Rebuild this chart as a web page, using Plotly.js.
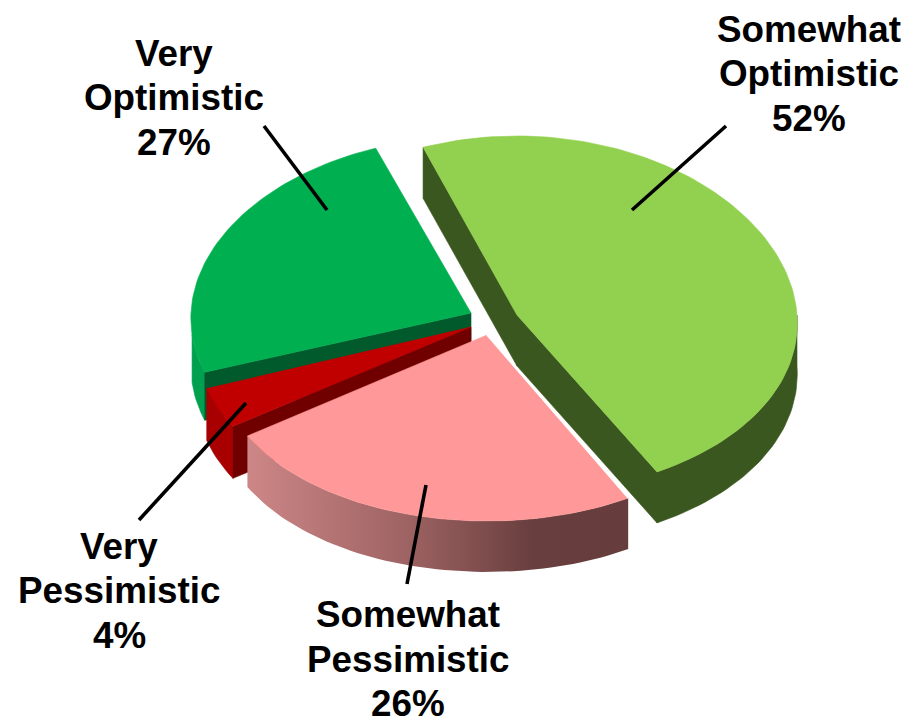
<!DOCTYPE html>
<html>
<head>
<meta charset="utf-8">
<script src="https://cdn.plot.ly/plotly-3.0.1.min.js"></script>
<style>html,body{margin:0;padding:0;background:#fff}#chart{width:920px;height:724px}</style>
</head>
<body>
<div id="chart"></div>
<script>
// Data, in the reference's clockwise order
var categories = ['Somewhat Optimistic', 'Somewhat Pessimistic', 'Very Pessimistic', 'Very Optimistic'];
var values = [52, 26, 4, 27];
var labelLines = [['Somewhat', 'Optimistic', '52%'], ['Somewhat', 'Pessimistic', '26%'], ['Very', 'Pessimistic', '4%'], ['Very', 'Optimistic', '27%']];

// Drawing style
var topColors = ['#92d050', '#ff9999', '#c00000', '#00b050'];
var cutColors = ['#3b5720', null, '#700000', '#005a2c'];
var wallColors = ['#3b5720', null, '#a80000', '#00a050'];
var apexX = [517, 487, 471, 471];
var apexY = [315, 335, 327, 313];
var radX = [280, 272, 276, 280];
var radY = [179, 186, 183, 176];
var persp = [0.045, 0.09, 0.05, 0.03];
var depth = [51, 51, 52, 48];
var START_DEG = 339.5;
var labelX = [809, 408, 119, 174];
var labelY = [29, 614.5, 546, 53];
var LINE_STEP = 44.6;
var FONT = 'Liberation Sans, Arial, sans-serif';
var leaders = [[726, 126, 632, 210], [426, 485, 407, 584], [246, 403, 139, 520], [264, 126, 327, 210]];

var total = values.reduce(function (a, b) { return a + b; }, 0);
var angles = [START_DEG];
values.forEach(function (v, i) { angles.push(angles[i] + v / total * 360); });

function rim(i, deg) {
  var t = deg * Math.PI / 180, s = Math.sin(t), c = Math.cos(t);
  return [apexX[i] + radX[i] * s * (1 - persp[i] * c), apexY[i] - radY[i] * c];
}
function arc(i, a, b) {
  var pts = [], n = Math.max(2, Math.ceil(Math.abs(b - a) / 1.5));
  for (var k = 0; k <= n; k++) pts.push(rim(i, a + (b - a) * k / n));
  return pts;
}
function poly(pts, color, extra) {
  var t = {
    type: 'scatter', mode: 'lines', fill: 'toself', fillcolor: color,
    x: pts.map(function (p) { return p[0]; }).concat([pts[0][0]]),
    y: pts.map(function (p) { return p[1]; }).concat([pts[0][1]]),
    line: { width: 0.6, color: color }, hoverinfo: 'skip', showlegend: false
  };
  if (extra) Object.keys(extra).forEach(function (k) { t[k] = extra[k]; });
  return t;
}
function wall(i, a, b, color, extra) {
  var top = arc(i, a, b);
  var low = top.slice().reverse().map(function (p) { return [p[0], p[1] + depth[i]]; });
  return poly(top.concat(low), color, extra);
}
function cut(i, deg, color) {
  var r = rim(i, deg), d = depth[i];
  return poly([[apexX[i], apexY[i]], r, [r[0], r[1] + d], [apexX[i], apexY[i] + d]], color);
}
function face(i) {
  return poly([[apexX[i], apexY[i]]].concat(arc(i, angles[i], angles[i + 1])), topColors[i]);
}

var traces = [];
// Somewhat Optimistic (back, right)
traces.push(cut(0, angles[0], cutColors[0]));
traces.push(cut(0, angles[1], cutColors[0]));
traces.push(wall(0, 450, angles[1], wallColors[0]));
traces.push(face(0));
// Very Optimistic
traces.push(wall(3, angles[3], 623, wallColors[3]));
traces.push(cut(3, angles[3], cutColors[3]));
traces.push(face(3));
// Very Pessimistic
traces.push(wall(2, angles[2], angles[3], wallColors[2]));
traces.push(cut(2, angles[2], cutColors[2]));
traces.push(face(2));
// Somewhat Pessimistic (front), wall shaded left to right
traces.push(wall(1, angles[1], angles[2], '#99595a', {
  fillgradient: {
    type: 'horizontal', start: 250, stop: 628,
    colorscale: [[0, '#cc8686'], [0.4, '#a06464'], [0.75, '#693e3e'], [1, '#663c3c']]
  },
  line: { width: 0 }
}));
traces.push(face(1));
var edge = rim(1, angles[1]);
traces.push({
  type: 'scatter', mode: 'lines', x: [apexX[1], edge[0]], y: [apexY[1], edge[1]],
  line: { color: '#ffffff', width: 1.5 }, hoverinfo: 'skip', showlegend: false
});

var annotations = [];
labelLines.forEach(function (lines, i) {
  lines.forEach(function (txt, k) {
    annotations.push({
      x: labelX[i], y: labelY[i] + k * LINE_STEP, xref: 'x', yref: 'y',
      text: '<b>' + txt + '</b>', showarrow: false, xanchor: 'center', yanchor: 'middle',
      font: { family: FONT, size: 36.8, color: '#000000' }
    });
  });
});
var shapes = leaders.map(function (l) {
  return { type: 'line', xref: 'x', yref: 'y', x0: l[0], y0: l[1], x1: l[2], y1: l[3], layer: 'above', line: { color: '#000000', width: 3.6 } };
});

Plotly.newPlot('chart', traces, {
  width: 920, height: 724,
  margin: { l: 0, r: 0, t: 0, b: 0 },
  paper_bgcolor: '#ffffff', plot_bgcolor: '#ffffff',
  showlegend: false,
  xaxis: { range: [0, 920], visible: false, fixedrange: true },
  yaxis: { range: [724, 0], visible: false, fixedrange: true },
  annotations: annotations, shapes: shapes
}, { displayModeBar: false, staticPlot: true });
</script>
</body>
</html>
